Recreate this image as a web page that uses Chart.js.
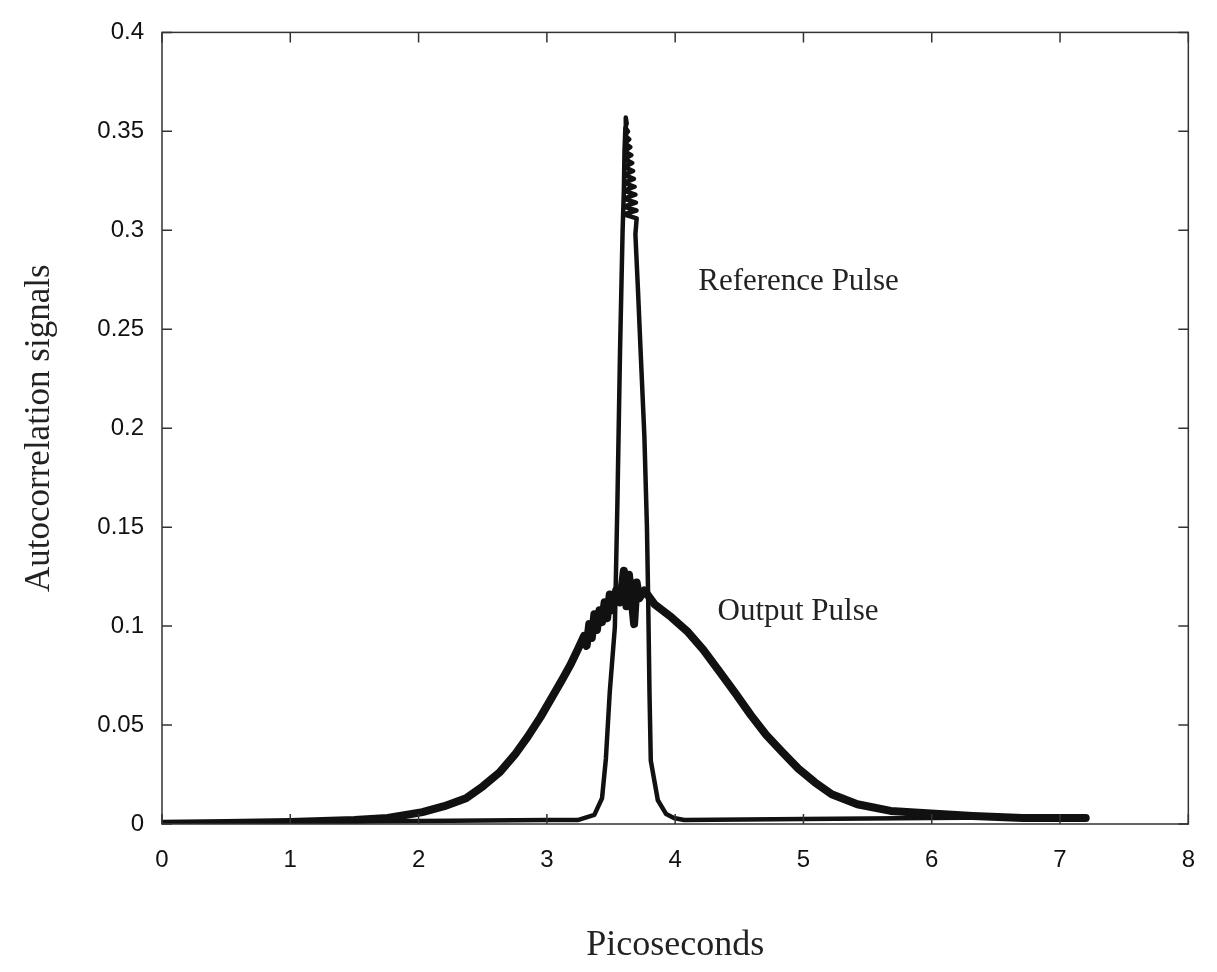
<!DOCTYPE html>
<html>
<head>
<meta charset="utf-8">
<script src="https://cdn.jsdelivr.net/npm/chart.js@4"></script>
<style>
  html, body { margin: 0; padding: 0; background: #fff; }
  #wrap { width: 1217px; height: 972px; position: relative; }
</style>
</head>
<body>
<div id="wrap"><canvas id="pulseChart"></canvas></div>
<script>
// ---------------- Daten ----------------
const xTickLabels = ['0', '1', '2', '3', '4', '5', '6', '7', '8'];
const yTickLabels = ['0', '0.05', '0.1', '0.15', '0.2', '0.25', '0.3', '0.35', '0.4'];

// Output Pulse (breit, verrauscht an der Spitze)
const outputX = [0, 0.5, 1.0, 1.5, 1.76, 2.03, 2.2, 2.37, 2.5, 2.63, 2.75, 2.85, 2.95, 3.04, 3.12, 3.18, 3.24, 3.29,
  3.31, 3.33, 3.35, 3.37, 3.39, 3.41, 3.43, 3.45, 3.47, 3.49, 3.51, 3.54, 3.57, 3.60, 3.62, 3.64, 3.66, 3.68, 3.70, 3.72,
  3.76, 3.84, 3.97, 4.10, 4.22, 4.34, 4.47, 4.59, 4.71, 4.84, 4.96, 5.09, 5.22, 5.42, 5.68, 5.93, 6.32, 6.71, 7.0, 7.2];
const outputY = [0, 0.0005, 0.001, 0.002, 0.003, 0.006, 0.009, 0.013, 0.019, 0.026, 0.035, 0.044, 0.054, 0.064, 0.073, 0.080, 0.088, 0.095,
  0.090, 0.101, 0.094, 0.106, 0.098, 0.108, 0.102, 0.112, 0.104, 0.116, 0.108, 0.118, 0.112, 0.128, 0.110, 0.126, 0.114, 0.101, 0.122, 0.114,
  0.118, 0.111, 0.1045, 0.097, 0.088, 0.0775, 0.066, 0.055, 0.045, 0.036, 0.028, 0.021, 0.015, 0.010, 0.0066, 0.0055, 0.004, 0.003, 0.003, 0.003];

// Reference Pulse (schmal, Spitze dicht verrauscht)
const refX = [0, 1, 2, 3, 3.24, 3.37, 3.43, 3.46, 3.49, 3.53, 3.55, 3.57, 3.59, 3.60, 3.605, 3.612, 3.615,
  3.622, 3.612, 3.632, 3.610, 3.642, 3.608, 3.650, 3.606, 3.658, 3.605, 3.665, 3.604, 3.672, 3.603, 3.678,
  3.602, 3.684, 3.601, 3.690, 3.600, 3.694, 3.600, 3.698, 3.599, 3.700, 3.69,
  3.71, 3.73, 3.76, 3.78, 3.79, 3.80, 3.81, 3.865, 3.93, 3.99, 4.07, 5, 6, 7, 7.2];
const refY = [0.001, 0.001, 0.0015, 0.002, 0.002, 0.0046, 0.013, 0.033, 0.0665, 0.0995, 0.163, 0.238, 0.299, 0.32, 0.34, 0.352, 0.357,
  0.354, 0.352, 0.350, 0.348, 0.346, 0.344, 0.342, 0.340, 0.338, 0.336, 0.334, 0.332, 0.330, 0.328, 0.326,
  0.324, 0.322, 0.320, 0.318, 0.316, 0.314, 0.312, 0.310, 0.308, 0.306, 0.298,
  0.27, 0.24, 0.196, 0.15, 0.112, 0.066, 0.032, 0.012, 0.005, 0.003, 0.002, 0.0025, 0.003, 0.0035, 0.0035];

const annotations = [
  { text: 'Reference Pulse', x: 4.18, y: 0.274 },
  { text: 'Output Pulse', x: 4.33, y: 0.107 }
];

const toPoints = (xs, ys) => xs.map((x, i) => ({ x: x, y: ys[i] }));

// ---------------- Rahmen mit Innen-Ticks + Beschriftung ----------------
const framePlugin = {
  id: 'frame',
  afterDatasetsDraw(chart) {
    const { ctx, chartArea: a, scales: { x, y } } = chart;
    ctx.save();
    ctx.strokeStyle = '#333';
    ctx.lineWidth = 1.5;
    ctx.strokeRect(a.left, a.top, a.right - a.left, a.bottom - a.top);
    const len = 10;
    ctx.beginPath();
    x.ticks.forEach(t => {
      const px = x.getPixelForValue(t.value);
      ctx.moveTo(px, a.bottom); ctx.lineTo(px, a.bottom - len);
      ctx.moveTo(px, a.top); ctx.lineTo(px, a.top + len);
    });
    y.ticks.forEach(t => {
      const py = y.getPixelForValue(t.value);
      ctx.moveTo(a.left, py); ctx.lineTo(a.left + len, py);
      ctx.moveTo(a.right, py); ctx.lineTo(a.right - len, py);
    });
    ctx.stroke();

    ctx.fillStyle = '#222';
    ctx.font = '31px "Liberation Serif", "Times New Roman", serif';
    ctx.textBaseline = 'middle';
    ctx.textAlign = 'left';
    annotations.forEach(n => {
      ctx.fillText(n.text, x.getPixelForValue(n.x), y.getPixelForValue(n.y));
    });
    ctx.restore();
  }
};

new Chart(document.getElementById('pulseChart'), {
  type: 'line',
  data: {
    datasets: [
      {
        label: 'Output Pulse',
        data: toPoints(outputX, outputY),
        borderColor: '#111',
        borderWidth: 8,
        pointRadius: 0,
        tension: 0,
        borderJoinStyle: 'round',
        borderCapStyle: 'round'
      },
      {
        label: 'Reference Pulse',
        data: toPoints(refX, refY),
        borderColor: '#111',
        borderWidth: 4.5,
        pointRadius: 0,
        tension: 0,
        borderJoinStyle: 'round',
        borderCapStyle: 'round'
      }
    ]
  },
  options: {
    responsive: true,
    maintainAspectRatio: false,
    animation: false,
    layout: { padding: { top: 30, right: 25, bottom: 0, left: 0 } },
    plugins: { legend: { display: false }, tooltip: { enabled: false } },
    scales: {
      x: {
        type: 'linear',
        min: 0, max: 8,
        afterFit: s => { s.height = 148; },
        grid: { display: false, drawTicks: false },
        border: { display: false },
        ticks: {
          stepSize: 1,
          padding: 22,
          color: '#111',
          font: { family: '"Liberation Sans", Arial, sans-serif', size: 24 },
          callback: (v, i) => xTickLabels[i]
        },
        title: {
          display: true,
          text: 'Picoseconds',
          color: '#222',
          padding: { top: 0, bottom: 5 },
          font: { family: '"Liberation Serif", "Times New Roman", serif', size: 36 }
        }
      },
      y: {
        min: 0, max: 0.4,
        afterFit: s => { s.width = 162; },
        grid: { display: false, drawTicks: false },
        border: { display: false },
        ticks: {
          stepSize: 0.05,
          padding: 18,
          color: '#111',
          font: { family: '"Liberation Sans", Arial, sans-serif', size: 24 },
          callback: (v, i) => yTickLabels[i]
        },
        title: {
          display: true,
          text: 'Autocorrelation signals',
          color: '#222',
          padding: { top: 19, bottom: 0 },
          font: { family: '"Liberation Serif", "Times New Roman", serif', size: 35 }
        }
      }
    }
  },
  plugins: [framePlugin]
});
</script>
</body>
</html>
